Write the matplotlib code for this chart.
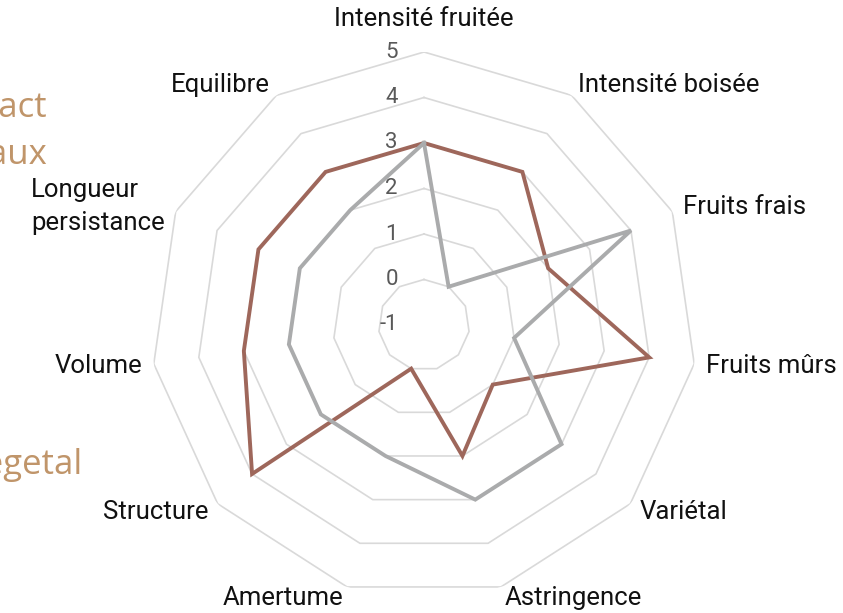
import numpy as np
import matplotlib
matplotlib.use("Agg")
import matplotlib.pyplot as plt
from matplotlib.transforms import offset_copy

categories = ["Intensité fruitée", "Intensité boisée", "Fruits frais", "Fruits mûrs",
              "Variétal", "Astringence", "Amertume", "Structure", "Volume",
              "Longueur\npersistance", "Equilibre"]
brown_values = [3, 3, 2, 4, 1, 2, 0, 4, 3, 3, 3]
gray_values = [3, 0, 4, 1, 3, 3, 2, 2, 2, 2, 2]
tick_values = [-1, 0, 1, 2, 3, 4, 5]
side_texts = ["Impact", "Floraux", "Végetal"]

W, H = 843, 613
fig = plt.figure(figsize=(W / 100, H / 100), dpi=100)
cx, cy, R = 424, H - 325, 273
ax = fig.add_axes([(cx - R) / W, (cy - R) / H, 2 * R / W, 2 * R / H], projection="polar")
ax.set_theta_zero_location("N")
ax.set_theta_direction(-1)
ax.set_ylim(tick_values[0], tick_values[-1])
ax.grid(False)
ax.set_xticks([])
ax.set_yticks([])
ax.spines["polar"].set_visible(False)
ax.patch.set_visible(False)

n = len(categories)
theta = np.linspace(0, 2 * np.pi, n, endpoint=False)
theta_c = np.append(theta, theta[0])

for v in tick_values[1:]:
    ax.plot(theta_c, [v] * (n + 1), color="#D9D9D9", lw=1.2, zorder=1)

ax.plot(theta_c, brown_values + brown_values[:1], color="#9E675B", lw=2.8,
        solid_joinstyle="miter", zorder=3)
ax.plot(theta_c, gray_values + gray_values[:1], color="#AAABAC", lw=2.8,
        solid_joinstyle="miter", zorder=4)

lab_font = ["Roboto", "DejaVu Sans"]
tt = offset_copy(ax.transData, fig=fig, x=-26, y=0, units="dots")
for v in tick_values:
    ax.text(0, v, str(v), transform=tt, ha="right", va="center", fontsize=16,
            color="#595959", family=lab_font, zorder=5)

r_lab = tick_values[-1] + 0.26
for t, lab in zip(theta, categories):
    s = np.sin(t)
    if abs(s) < 1e-6:
        ax.text(t, tick_values[-1] + 0.72, lab, ha="center", va="center",
                fontsize=18.5, family=lab_font, color="#111111")
    else:
        ha = "left" if s > 0 else "right"
        ax.text(t, r_lab, lab, ha=ha, va="center", fontsize=18.5, family=lab_font,
                color="#111111", multialignment="left", linespacing=1.45)

side_pos = [(47, 108), (47, 155), (82, 465)]
for txt, (x, y) in zip(side_texts, side_pos):
    fig.text(x / W, 1 - y / H, txt, ha="right", va="center", fontsize=25,
             family=["Open Sans", "DejaVu Sans"], color="#C0956A")

fig.savefig("out.png", dpi=100)
